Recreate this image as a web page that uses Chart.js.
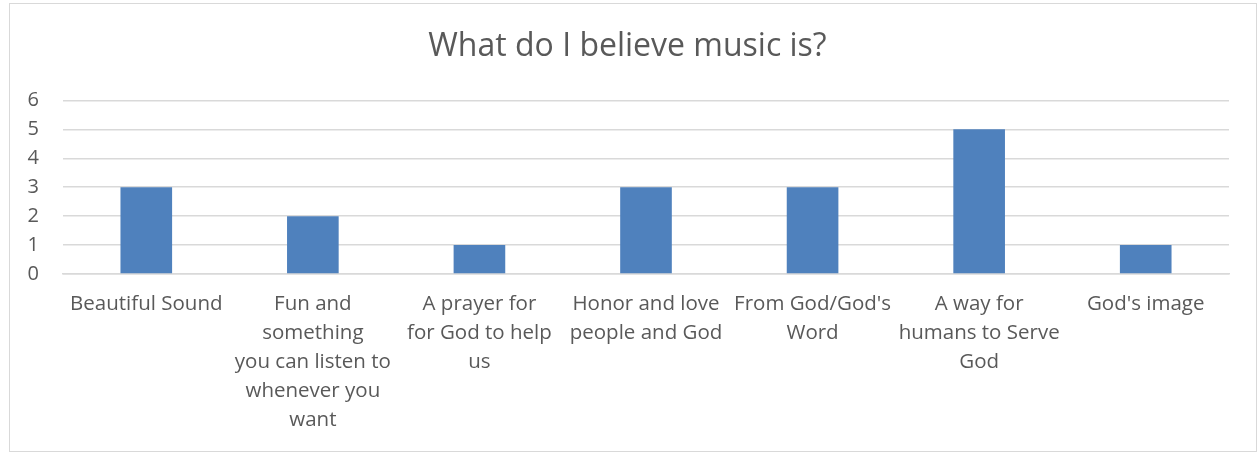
<!DOCTYPE html>
<html>
<head>
<meta charset="utf-8">
<script src="https://cdn.jsdelivr.net/npm/chart.js@4"></script>
<style>
  body { margin: 0; background: #fff; }
  #box {
    position: absolute; left: 9px; top: 3px;
    width: 1246px; height: 447px;
    border: 1.5px solid #d9d9d9; background: #fff;
  }
  #musicChart { position: absolute; left: 0; top: 0; }
</style>
</head>
<body>
<div id="box"><canvas id="musicChart" width="1246" height="447"></canvas></div>
<script>
const categories = [
    ["Beautiful Sound"],
    ["Fun and", "something", "you can listen to", "whenever you", "want"],
    ["A prayer for", "for God to help", "us"],
    ["Honor and love", "people and God"],
    ["From God/God's", "Word"],
    ["A way for", "humans to Serve", "God"],
    ["God's image"]
];
const answers = [3, 2, 1, 3, 3, 5, 1];
const yTicks = [0, 1, 2, 3, 4, 5, 6];

const textColor = "#595959";
const gridColor = "#d9d9d9";
const fontName = "'Open Sans', Lato, sans-serif";

const ctx = document.getElementById("musicChart").getContext("2d");

new Chart(ctx, {
    type: "bar",
    data: {
        labels: categories,
        datasets: [{
            label: "Answers",
            data: answers,
            backgroundColor: "#4f81bd",
            borderWidth: 0,
            barPercentage: 0.31,
            categoryPercentage: 1
        }]
    },
    options: {
        responsive: false,
        animation: false,
        layout: { padding: { left: 16, right: 27, top: 0, bottom: 0 } },
        plugins: {
            legend: { display: false },
            tooltip: { enabled: false },
            title: {
                display: true,
                text: "What do I believe music is?",
                color: textColor,
                font: { family: fontName, size: 32, weight: "normal" },
                padding: { top: 24, bottom: 34 }
            }
        },
        scales: {
            x: {
                grid: { display: false, drawTicks: false },
                border: { display: true, color: gridColor, width: 1.5 },
                ticks: {
                    color: textColor,
                    font: { family: fontName, size: 20.5, lineHeight: 1.41 },
                    padding: 16,
                    maxRotation: 0,
                    autoSkip: false
                },
                afterFit: (scale) => { scale.height = 177; }
            },
            y: {
                min: 0,
                max: 6,
                grid: { color: gridColor, lineWidth: 1.5, drawTicks: false },
                border: { display: false },
                afterBuildTicks: (scale) => { scale.ticks = yTicks.map(v => ({ value: v })); },
                ticks: {
                    color: textColor,
                    font: { family: fontName, size: 20 },
                    padding: 24
                },
                afterFit: (scale) => { scale.width = 37; }
            }
        }
    }
});
</script>
</body>
</html>
